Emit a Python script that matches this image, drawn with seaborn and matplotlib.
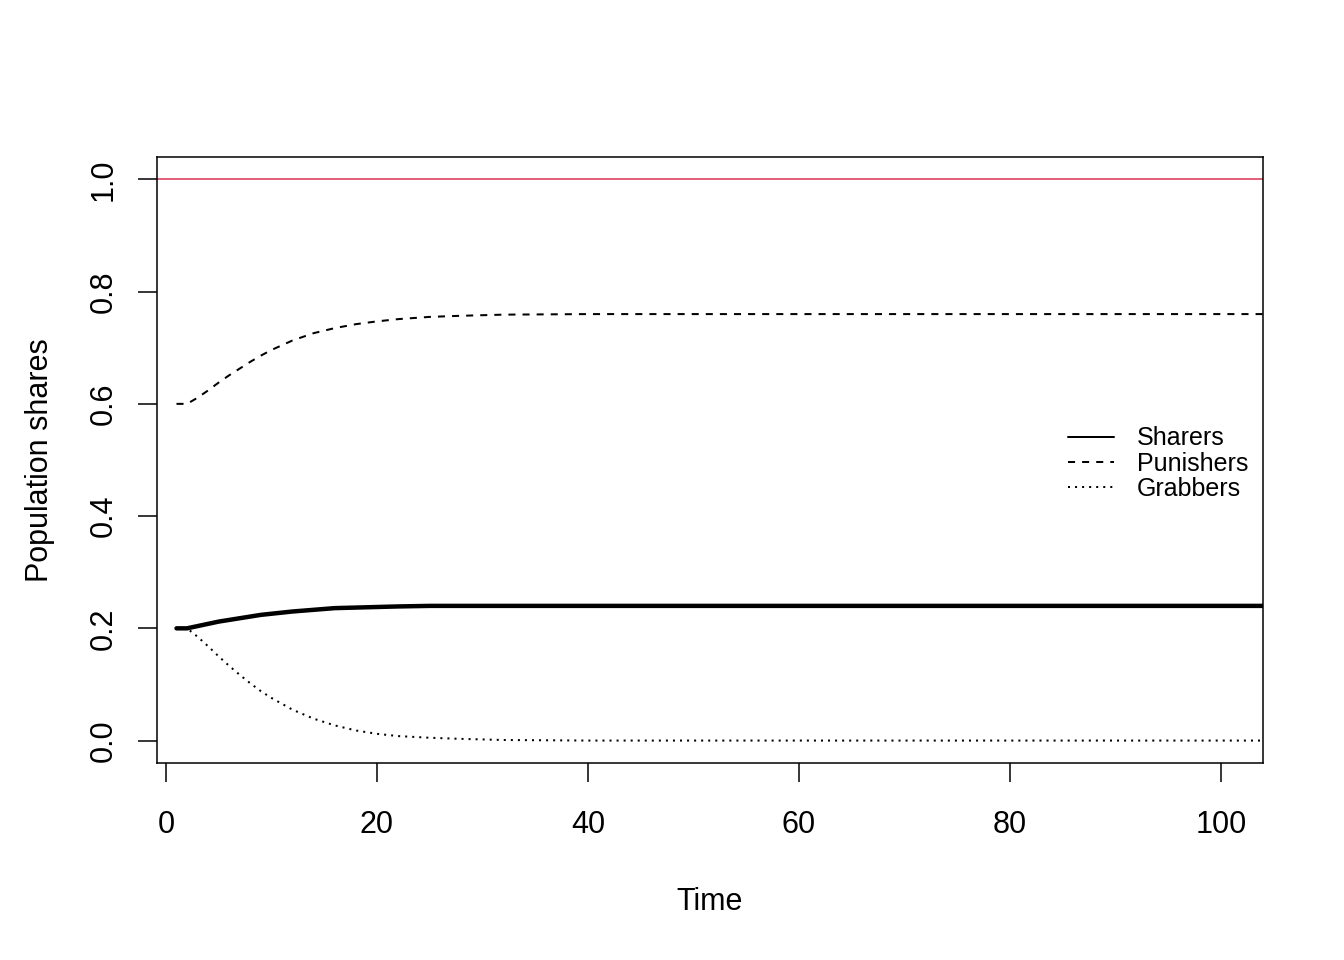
"""
Population shares over time for Sharers, Punishers and Grabbers.

Re-drawn with seaborn in the look of an R base graphics plot.
"""

################################################################################################################

import matplotlib
matplotlib.use("Agg")
from matplotlib import pyplot as plt
from matplotlib.lines import Line2D
import pandas as pd
import seaborn as sns

#############################################################

# Values.
time_steps = [1, 2, 3, 4, 5, 6, 7, 8, 9, 10, 12, 14, 16, 18, 20, 22, 25, 28, 32, 40, 60, 80, 110]
sharers = [0.200, 0.200, 0.204, 0.208, 0.212, 0.215, 0.218, 0.221, 0.224, 0.226, 0.230, 0.233,
           0.236, 0.237, 0.238, 0.239, 0.240, 0.240, 0.240, 0.240, 0.240, 0.240, 0.240]
punishers = [0.600, 0.600, 0.611, 0.624, 0.638, 0.651, 0.663, 0.675, 0.686, 0.696, 0.713, 0.726,
             0.735, 0.742, 0.747, 0.751, 0.755, 0.757, 0.759, 0.760, 0.760, 0.760, 0.760]
grabbers = [0.200, 0.200, 0.185, 0.168, 0.150, 0.133, 0.117, 0.102, 0.088, 0.076, 0.055, 0.039,
            0.027, 0.018, 0.012, 0.008, 0.005, 0.003, 0.001, 0.000, 0.000, 0.000, 0.000]
total_share = 1.0

x_ticks = [0, 20, 40, 60, 80, 100]
y_ticks = [0.0, 0.2, 0.4, 0.6, 0.8, 1.0]
legend_labels = ["Sharers", "Punishers", "Grabbers"]

DASHED = (0, (3.5, 3.5))
DOTTED = (0, (1, 2.5))


################################################################################################################

def plot_population_shares(out_file):
    """
    Draw the three population share series and the reference line at 1.

    :param out_file: name of the png file to write.
    :return: None.
    """
    sns.set_theme(style="white")
    plt.rcParams['font.family'] = ['Liberation Sans', 'DejaVu Sans']

    shares = pd.DataFrame({"time": time_steps, "Sharers": sharers,
                           "Punishers": punishers, "Grabbers": grabbers})

    fig = plt.figure(figsize=(13.44, 9.6), dpi=100)
    ax = fig.add_axes([0.1168, 0.2052, 0.8229, 0.6313])

    sns.lineplot(data=shares, x="time", y="Sharers", color="black", linewidth=3.2, ax=ax)
    sns.lineplot(data=shares, x="time", y="Punishers", color="black", linewidth=1.45,
                 linestyle=DASHED, ax=ax)
    sns.lineplot(data=shares, x="time", y="Grabbers", color="black", linewidth=1.45,
                 linestyle=DOTTED, ax=ax)
    ax.axhline(total_share, color="#DF536B", linewidth=1.3)

    ax.set_xlim(-0.85, 104.0)
    ax.set_ylim(-0.04, 1.04)
    ax.set_xticks(x_ticks)
    ax.set_xticklabels([str(t) for t in x_ticks])
    ax.set_yticks(y_ticks)
    ax.set_yticklabels([f"{t:.1f}" for t in y_ticks], rotation=90, va="center")
    ax.tick_params(axis="both", direction="out", length=13.7, width=1.1, color="black",
                   labelsize=22, labelcolor="black", bottom=True, left=True)
    ax.tick_params(axis="x", pad=20)
    ax.tick_params(axis="y", pad=14)

    for spine in ax.spines.values():
        spine.set_visible(True)
        spine.set_color("black")
        spine.set_linewidth(1.1)

    ax.set_xlabel("Time", fontsize=22, color="black", labelpad=34)
    ax.set_ylabel("Population shares", fontsize=22, color="black", labelpad=24)
    ax.grid(False)

    handles = [Line2D([], [], color="black", linewidth=1.45),
               Line2D([], [], color="black", linewidth=1.45, linestyle=DASHED),
               Line2D([], [], color="black", linewidth=1.45, linestyle=DOTTED)]
    legend = ax.legend(handles, legend_labels, loc="center left", bbox_to_anchor=(0.8237, 0.494),
                       frameon=False, fontsize=18, handlelength=1.85, handletextpad=0.92,
                       labelspacing=0.05, borderaxespad=0, borderpad=0)
    for text in legend.get_texts():
        text.set_color("black")

    fig.savefig(out_file, dpi=100, facecolor="white")
    plt.close(fig)


################################################################################################################

if __name__ == '__main__':
    plot_population_shares("out.png")
